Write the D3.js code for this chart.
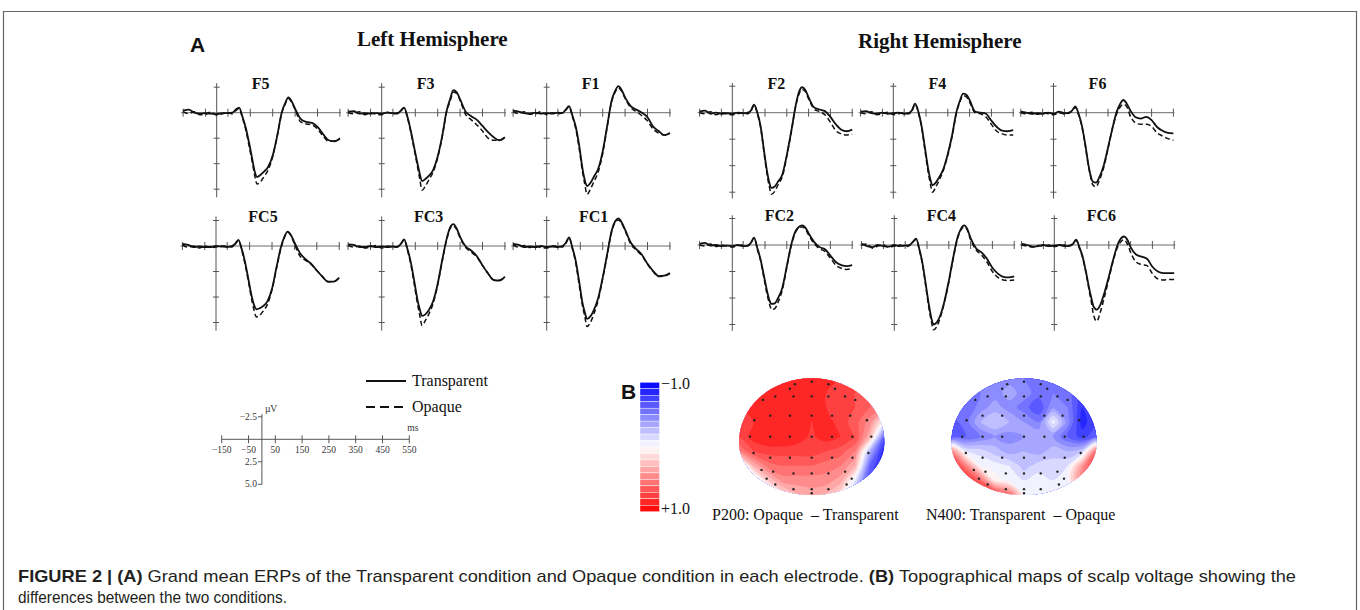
<!DOCTYPE html>
<html lang="en">
<head>
<meta charset="UTF-8">
<script src="https://cdn.jsdelivr.net/npm/d3@7"></script>
<title>ERP figure</title>
<style>
    body { margin: 0; background: #fff; }
    .serif { font-family: "Liberation Serif", "Times New Roman", serif; }
    .sans { font-family: "Liberation Sans", Arial, sans-serif; }
</style>
</head>
<body>
<svg id="fig" width="1360" height="610"></svg>
<script>
// sample times (ms) shared by every waveform
const times = [-150,-125,-100,-75,-50,-25,0,25,50,70,85,100,115,130,145,160,170,180,195,210,230,250,270,290,305,320,335,350,375,400,425,450,475,500,525,550];

// grand mean ERPs (µV)
const F5_transparent = [-0.2,-0.3,0.0,0.1,0.05,0.1,0.15,0.05,0.05,0.0,-0.3,-0.5,0.4,1.5,3.0,4.7,5.8,6.3,6.1,5.8,5.3,4.2,2.3,0.0,-0.9,-1.5,-1.1,-0.4,0.6,0.9,1.0,1.4,2.1,2.7,2.8,2.55];
const F5_opaque      = [-0.1,0.1,-0.1,0.2,0.15,-0.05,0.25,0.1,0.0,0.1,-0.2,-0.4,0.5,1.7,3.3,5.0,6.2,7.0,6.8,6.3,5.6,4.3,2.3,0.1,-0.8,-1.4,-1.0,-0.3,0.9,1.1,1.2,1.6,2.3,2.8,2.8,2.5];
const F3_transparent = [-0.1,-0.15,0.1,0.05,0.1,0.05,0.1,0.0,0.05,0.1,-0.2,-0.5,0.4,1.8,3.4,5.0,6.0,6.7,6.5,6.2,5.6,4.3,2.3,-0.2,-1.3,-2.2,-2.0,-1.3,-0.1,0.35,0.7,1.3,1.9,2.4,2.7,2.4];
const F3_opaque      = [0.0,0.1,-0.1,0.2,0.0,0.15,0.2,-0.05,0.1,0.0,-0.15,-0.45,0.5,1.9,3.6,5.3,6.5,7.6,7.2,6.6,5.8,4.4,2.4,-0.1,-1.1,-2.0,-1.9,-1.2,0.2,0.7,1.2,1.8,2.5,2.7,2.7,2.4];
const F1_transparent = [-0.2,-0.1,0.05,0.1,0.0,0.1,0.05,0.1,0.0,0.05,-0.3,-0.65,0.3,1.4,3.2,5.5,6.6,7.2,6.9,6.3,5.5,3.8,1.3,-1.2,-2.1,-2.6,-2.2,-1.5,-0.65,-0.3,0.0,0.45,1.35,1.8,2.2,2.0];
const F1_opaque      = [-0.1,0.1,-0.1,0.15,0.1,-0.1,0.2,0.0,0.1,0.0,-0.25,-0.6,0.4,1.6,3.5,5.8,7.0,8.0,7.5,6.8,5.8,4.0,1.4,-1.1,-2.0,-2.4,-2.1,-1.4,-0.5,-0.1,0.3,0.8,1.6,2.0,2.2,2.0];
const F2_transparent = [-0.1,-0.2,0.1,0.0,0.1,0.05,0.1,0.0,0.05,0.0,-0.2,-0.75,0.0,1.3,3.5,5.6,6.6,7.1,6.95,6.5,5.8,4.0,1.8,-0.6,-1.9,-2.4,-2.15,-1.45,-0.5,-0.3,-0.15,0.4,1.1,1.6,1.75,1.6];
const F2_opaque      = [0.0,0.1,-0.1,0.2,0.0,0.1,0.2,0.1,0.0,0.1,-0.15,-0.7,0.1,1.4,3.7,5.9,7.0,7.7,7.4,6.8,6.0,4.1,1.9,-0.5,-1.7,-2.2,-2.0,-1.3,-0.35,-0.1,0.2,0.9,1.7,2.0,2.1,2.05];
const F4_transparent = [-0.1,-0.15,0.05,0.1,0.0,0.1,0.05,0.0,0.1,0.05,-0.2,-0.85,-0.1,1.3,3.3,5.3,6.3,6.85,6.6,6.1,5.3,3.9,2.1,-0.1,-1.1,-1.8,-1.7,-1.2,-0.1,0.0,0.1,0.75,1.35,1.7,1.75,1.65];
const F4_opaque      = [0.0,0.1,-0.1,0.2,0.1,-0.05,0.2,0.1,0.0,0.1,-0.15,-0.8,0.0,1.4,3.5,5.6,6.7,7.5,7.0,6.4,5.4,4.0,2.2,0.0,-1.0,-1.6,-1.5,-1.0,0.0,0.1,0.4,1.1,1.75,2.0,2.1,2.1];
const F6_transparent = [-0.1,0.0,0.1,0.05,0.1,0.0,0.1,-0.1,0.05,0.0,-0.2,-0.6,0.1,1.2,2.9,4.9,5.9,6.5,6.6,6.1,5.0,3.3,1.5,-0.1,-0.8,-1.2,-0.9,-0.3,0.4,0.55,0.4,0.7,1.35,1.7,1.9,1.95];
const F6_opaque      = [0.0,0.1,-0.05,0.15,0.0,0.1,0.2,0.0,0.1,0.05,-0.15,-0.5,0.2,1.3,3.0,5.0,6.0,6.8,7.0,6.4,5.2,3.4,1.5,0.1,-0.5,-0.8,-0.6,0.2,0.95,1.1,1.1,1.3,1.9,2.2,2.45,2.6];
const FC5_transparent = [-0.2,-0.1,0.1,0.05,0.1,0.1,0.0,0.05,0.1,0.0,-0.2,-0.6,0.3,1.6,3.3,5.0,5.8,6.2,6.1,5.9,5.4,4.2,2.1,0.1,-0.9,-1.4,-1.05,-0.35,0.7,1.3,1.75,2.4,3.0,3.5,3.5,3.1];
const FC5_opaque      = [-0.1,0.1,0.0,0.2,0.0,0.15,0.1,0.0,0.0,0.1,-0.15,-0.55,0.4,1.8,3.5,5.3,6.3,6.95,6.8,6.4,5.7,4.3,2.2,0.2,-0.8,-1.35,-1.0,-0.2,1.0,1.4,1.8,2.4,3.0,3.5,3.5,3.1];
const FC3_transparent = [-0.15,-0.1,0.1,0.1,0.0,0.1,0.05,0.1,0.05,0.1,-0.2,-0.65,0.3,1.6,3.4,5.3,6.2,6.85,6.7,6.3,5.4,3.7,1.4,-0.7,-1.8,-2.15,-1.7,-0.9,0.05,0.45,1.0,1.9,2.7,3.35,3.4,3.0];
const FC3_opaque      = [-0.05,0.1,0.0,0.2,0.1,-0.05,0.2,0.0,0.1,0.05,-0.15,-0.6,0.4,1.8,3.7,5.7,6.8,7.8,7.3,6.7,5.6,3.8,1.5,-0.6,-1.7,-2.0,-1.6,-0.8,0.15,0.6,1.1,1.9,2.7,3.3,3.35,3.0];
const FC1_transparent = [-0.2,-0.1,0.1,0.05,0.1,0.0,0.1,0.05,0.1,0.0,-0.3,-0.85,0.2,1.5,3.5,5.6,6.5,7.15,6.9,6.3,5.1,3.1,0.8,-1.5,-2.4,-2.7,-2.3,-1.6,-0.35,0.3,0.85,1.75,2.45,2.95,2.9,2.65];
const FC1_opaque      = [-0.1,0.1,-0.05,0.15,0.0,0.15,0.2,0.0,0.0,0.1,-0.25,-0.8,0.3,1.7,3.8,5.9,6.9,7.9,7.5,6.7,5.3,3.2,0.9,-1.4,-2.3,-2.55,-2.2,-1.5,-0.2,0.4,0.95,1.8,2.5,3.0,2.95,2.7];
const FC2_transparent = [-0.1,-0.2,0.05,0.0,0.1,0.05,0.1,0.0,0.1,0.05,-0.2,-0.7,0.3,1.4,2.9,4.4,5.2,5.55,5.5,5.0,4.0,2.0,0.0,-1.3,-1.7,-1.85,-1.65,-1.1,-0.3,0.2,0.4,1.0,1.6,1.9,2.0,1.9];
const FC2_opaque      = [0.0,0.1,-0.1,0.15,0.0,0.1,0.2,0.05,0.0,0.1,-0.15,-0.65,0.4,1.5,3.1,4.7,5.5,6.1,6.0,5.4,4.2,2.1,0.1,-1.2,-1.6,-1.7,-1.5,-0.95,-0.15,0.35,0.6,1.25,1.9,2.2,2.3,2.2];
const FC4_transparent = [-0.1,0.1,0.2,0.0,0.1,0.15,0.0,0.1,0.05,0.0,-0.3,-0.6,0.4,1.8,3.8,5.8,6.9,7.5,7.3,6.7,5.3,3.4,1.2,-0.7,-1.5,-1.85,-1.5,-0.65,0.3,0.7,1.3,2.15,2.7,3.0,3.05,2.95];
const FC4_opaque      = [0.0,-0.1,0.3,0.1,0.0,0.2,0.1,0.0,0.15,0.05,-0.25,-0.55,0.5,1.9,4.0,6.1,7.2,8.0,7.7,6.9,5.4,3.5,1.3,-0.6,-1.4,-1.7,-1.4,-0.5,0.45,0.95,1.6,2.5,3.05,3.3,3.35,3.3];
const FC6_transparent = [-0.1,0.0,0.15,0.1,0.0,0.1,0.05,0.0,0.1,0.05,-0.1,-0.5,0.2,1.1,2.5,4.1,5.0,5.8,6.1,5.7,4.5,3.0,1.4,0.0,-0.6,-0.8,-0.5,0.2,0.9,1.1,1.3,2.05,2.5,2.65,2.65,2.65];
const FC6_opaque      = [0.0,0.1,0.2,0.05,0.1,0.0,0.15,0.05,0.0,0.1,-0.05,-0.45,0.3,1.2,2.6,4.3,5.4,6.6,7.2,6.4,4.9,3.2,1.5,0.2,-0.3,-0.5,-0.1,0.7,1.6,1.85,1.95,2.7,3.2,3.3,3.25,3.25];

// axis ticks
const msTicks = [-150, -50, 50, 150, 250, 350, 450, 550];
const msTickLabels = ["\u2212150", "\u221250", "50", "150", "250", "350", "450", "550"];
const uvTicks = [-2.5, 2.5, 5.0, 7.5];
const legendUvTicks = [-2.5, 2.5, 5.0];
const legendUvLabels = ["\u22122.5", "2.5", "5.0"];

// topographic maps: difference voltage on an 11 x 9 grid (u -1..1 left-right, v -1..1 top-bottom)
const colorLevels = [-1.0,-0.9,-0.8,-0.7,-0.6,-0.5,-0.4,-0.3,-0.2,-0.1,0.0,0.1,0.2,0.3,0.4,0.5,0.6,0.7,0.8,0.9];
const p200Diff = [
    [0.75,0.8,0.8,0.8,0.8,0.8,0.8,0.8,0.75,0.7,0.6],
    [0.8,0.8,0.8,0.8,0.8,0.8,0.8,0.75,0.7,0.65,0.6],
    [0.8,0.8,0.8,0.85,0.8,0.8,0.8,0.75,0.7,0.6,0.5],
    [0.75,0.8,0.85,0.8,0.8,0.8,0.85,0.75,0.65,0.45,0.0],
    [0.7,0.85,0.9,0.9,0.85,0.78,0.85,0.8,0.7,0.3,-0.6],
    [0.5,0.7,0.75,0.75,0.75,0.75,0.7,0.65,0.5,-0.3,-0.9],
    [-0.3,0.3,0.55,0.6,0.6,0.6,0.55,0.5,0.3,-0.6,-0.9],
    [-0.4,-0.2,0.2,0.45,0.45,0.45,0.45,0.35,-0.1,-0.7,-0.8],
    [-0.4,-0.3,-0.2,0.1,0.3,0.35,0.3,0.1,-0.3,-0.5,-0.5]
];
const n400Diff = [
    [-0.5,-0.5,-0.5,-0.5,-0.45,-0.5,-0.55,-0.6,-0.6,-0.7,-0.7],
    [-0.5,-0.55,-0.5,-0.45,-0.35,-0.45,-0.55,-0.5,-0.55,-0.75,-0.7],
    [-0.55,-0.6,-0.45,-0.35,-0.45,-0.55,-0.7,-0.4,-0.5,-0.8,-0.7],
    [-0.65,-0.55,-0.3,-0.2,-0.3,-0.4,-0.5,-0.05,-0.45,-0.85,-0.7],
    [-0.7,-0.6,-0.5,-0.4,-0.45,-0.4,-0.3,-0.4,-0.6,-0.75,-0.6],
    [0.5,-0.1,-0.15,-0.25,-0.35,-0.3,-0.35,-0.25,-0.3,-0.2,0.6],
    [0.9,0.5,0.0,-0.05,-0.1,-0.25,-0.15,-0.15,-0.1,0.4,0.9],
    [0.9,0.9,0.6,0.05,-0.05,-0.1,-0.05,-0.1,0.0,0.5,0.9],
    [0.9,0.9,0.9,0.9,0.6,0.0,-0.1,-0.1,-0.1,0.0,0.3]
];
// electrode sites, same normalised head coordinates
const electrodes = [
    [-0.23,-0.9],[0,-0.94],[0.23,-0.9],[-0.3,-0.82],[0.32,-0.82],
    [-0.5,-0.69],[-0.25,-0.69],[0,-0.69],[0.23,-0.69],[0.46,-0.69],[-0.67,-0.63],[0.6,-0.63],
    [-0.57,-0.36],[-0.3,-0.36],[0,-0.36],[0.28,-0.36],[0.53,-0.36],[-0.79,-0.28],[0.76,-0.28],
    [-0.85,0],[-0.57,0],[-0.3,0],[0,0],[0.28,0],[0.56,0],[0.82,0],
    [-0.8,0.28],[0.78,0.28],[-0.57,0.36],[-0.3,0.36],[0,0.36],[0.28,0.36],[0.56,0.36],
    [-0.69,0.57],[-0.53,0.6],[0.46,0.6],[-0.25,0.63],[0,0.63],[0.23,0.63],
    [-0.62,0.72],[0.55,0.72],[-0.5,0.82],[0.48,0.82],[-0.25,0.9],[0,0.9],[0.23,0.9],[0,0.97]
];

const svg = d3.select("#fig");

// frame
svg.append("path")
    .attr("d", "M3.5,610V11.5H1356.5V610")
    .attr("fill", "none").attr("stroke", "#666").attr("stroke-width", 1.2);

// ---- panel A ----
const hemis = {
    L: { pxPerMs: 0.224, pxPerUv: 10.2, top: -2.9, bottom: 8.3 },
    R: { pxPerMs: 0.218, pxPerUv: 10.6, top: -2.8, bottom: 8.1 }
};

const panels = [
    { name: "F5",  solid: F5_transparent,  dashed: F5_opaque,  ax: 216.7,  ay: 112.7, side: "L" },
    { name: "F3",  solid: F3_transparent,  dashed: F3_opaque,  ax: 381.7,  ay: 112.7, side: "L" },
    { name: "F1",  solid: F1_transparent,  dashed: F1_opaque,  ax: 546.7,  ay: 112.7, side: "L" },
    { name: "F2",  solid: F2_transparent,  dashed: F2_opaque,  ax: 732.3,  ay: 112.7, side: "R" },
    { name: "F4",  solid: F4_transparent,  dashed: F4_opaque,  ax: 893.3,  ay: 112.7, side: "R" },
    { name: "F6",  solid: F6_transparent,  dashed: F6_opaque,  ax: 1053.5, ay: 112.7, side: "R" },
    { name: "FC5", solid: FC5_transparent, dashed: FC5_opaque, ax: 216.0,  ay: 246,   side: "L" },
    { name: "FC3", solid: FC3_transparent, dashed: FC3_opaque, ax: 381.7,  ay: 246,   side: "L" },
    { name: "FC1", solid: FC1_transparent, dashed: FC1_opaque, ax: 546.7,  ay: 246,   side: "L" },
    { name: "FC2", solid: FC2_transparent, dashed: FC2_opaque, ax: 732.3,  ay: 245,   side: "R" },
    { name: "FC4", solid: FC4_transparent, dashed: FC4_opaque, ax: 894.3,  ay: 245,   side: "R" },
    { name: "FC6", solid: FC6_transparent, dashed: FC6_opaque, ax: 1054.3, ay: 245,   side: "R" }
];

function drawPanel(p) {
    const h = hemis[p.side];
    const x = d3.scaleLinear().domain([-150, 550]).range([p.ax - 150 * h.pxPerMs, p.ax + 550 * h.pxPerMs]);
    const y = d3.scaleLinear().domain([0, 1]).range([p.ay, p.ay + h.pxPerUv]);
    const g = svg.append("g");

    // axes
    g.append("line")
        .attr("x1", x(-150) - 2).attr("x2", x(550) + 1).attr("y1", y(0)).attr("y2", y(0))
        .attr("stroke", "#6a6a6a").attr("stroke-width", 1);
    g.append("line")
        .attr("x1", x(0)).attr("x2", x(0)).attr("y1", y(h.top)).attr("y2", y(h.bottom))
        .attr("stroke", "#555").attr("stroke-width", 1);
    g.selectAll(".xt").data(msTicks).enter().append("line")
        .attr("x1", d => x(d)).attr("x2", d => x(d))
        .attr("y1", y(0) - 4).attr("y2", y(0) + 4)
        .attr("stroke", "#555").attr("stroke-width", 1);
    g.selectAll(".yt").data(uvTicks).enter().append("line")
        .attr("x1", x(0) - 3).attr("x2", x(0) + 3)
        .attr("y1", d => y(d)).attr("y2", d => y(d))
        .attr("stroke", "#555").attr("stroke-width", 1);

    const line = d3.line()
        .x((d, i) => x(times[i]))
        .y(d => y(d))
        .curve(d3.curveMonotoneX);

    g.append("path").datum(p.dashed).attr("d", line)
        .attr("fill", "none").attr("stroke", "#111").attr("stroke-width", 1.5)
        .attr("stroke-dasharray", "5,3");
    g.append("path").datum(p.solid).attr("d", line)
        .attr("fill", "none").attr("stroke", "#111").attr("stroke-width", 1.8);

    g.append("text")
        .attr("class", "serif")
        .attr("x", p.ax + (p.name.length > 2 ? 47 : 44))
        .attr("y", p.ay - 24)
        .attr("text-anchor", "middle")
        .attr("font-weight", "bold").attr("font-size", 16)
        .attr("fill", "#111")
        .text(p.name);
}
panels.forEach(drawPanel);

svg.append("text").attr("class", "sans").attr("x", 190).attr("y", 52)
    .attr("font-weight", "bold").attr("font-size", 21).attr("fill", "#111").text("A");
svg.append("text").attr("class", "serif").attr("x", 357).attr("y", 46)
    .attr("font-weight", "bold").attr("font-size", 21).attr("fill", "#111").text("Left Hemisphere");
svg.append("text").attr("class", "serif").attr("x", 858).attr("y", 48)
    .attr("font-weight", "bold").attr("font-size", 21).attr("fill", "#111").text("Right Hemisphere");

// condition legend
const legendItems = [
    { label: "Transparent", dash: null, y: 381 },
    { label: "Opaque", dash: "9,5", y: 407 }
];
legendItems.forEach(d => {
    svg.append("line").attr("x1", 366).attr("x2", 406).attr("y1", d.y).attr("y2", d.y)
        .attr("stroke", "#111").attr("stroke-width", 2)
        .attr("stroke-dasharray", d.dash);
    svg.append("text").attr("class", "serif").attr("x", 412).attr("y", d.y + 5)
        .attr("font-size", 16).attr("fill", "#111").text(d.label);
});

// scale key
const kx = d3.scaleLinear().domain([-150, 550]).range([221.7, 409.3]);
const ky = d3.scaleLinear().domain([0, 2.5]).range([439.3, 461.8]);
const key = svg.append("g");
key.append("line").attr("x1", kx(-150)).attr("x2", kx(550)).attr("y1", ky(0)).attr("y2", ky(0))
    .attr("stroke", "#555");
key.append("line").attr("x1", kx(0)).attr("x2", kx(0)).attr("y1", ky(-2.8)).attr("y2", ky(5.0))
    .attr("stroke", "#555");
key.selectAll(".kxt").data(msTicks).enter().append("line")
    .attr("x1", d => kx(d)).attr("x2", d => kx(d)).attr("y1", ky(0) - 4).attr("y2", ky(0) + 4)
    .attr("stroke", "#555");
key.selectAll(".kxl").data(msTicks).enter().append("text")
    .attr("class", "serif").attr("x", d => kx(d)).attr("y", ky(0) + 14)
    .attr("text-anchor", "middle").attr("font-size", 9.5).attr("fill", "#333")
    .text((d, i) => msTickLabels[i]);
key.selectAll(".kyt").data(legendUvTicks).enter().append("line")
    .attr("x1", kx(0) - 4).attr("x2", kx(0)).attr("y1", d => ky(d)).attr("y2", d => ky(d))
    .attr("stroke", "#555");
key.selectAll(".kyl").data(legendUvTicks).enter().append("text")
    .attr("class", "serif").attr("x", kx(0) - 5).attr("y", d => ky(d) + 3)
    .attr("text-anchor", "end").attr("font-size", 9.5).attr("fill", "#333")
    .text((d, i) => legendUvLabels[i]);
key.append("text").attr("class", "serif").attr("x", kx(0) + 3).attr("y", ky(-2.5) - 5)
    .attr("font-size", 9.5).attr("fill", "#333").text("\u00b5V");
key.append("text").attr("class", "serif").attr("x", kx(550) - 2).attr("y", ky(0) - 8)
    .attr("font-size", 9.5).attr("fill", "#333").text("ms");

// ---- panel B ----
const ramp = d3.scaleLinear().domain([-1, 0, 1]).range(["#0000ff", "#ffffff", "#ff0000"]);
const cb = d3.scaleLinear().domain([-1, 1]).range([382.3, 511.7]);
svg.selectAll(".cb").data(colorLevels).enter().append("rect")
    .attr("x", 640).attr("width", 19.5)
    .attr("y", d => cb(d)).attr("height", d => cb(d + 0.1) - cb(d))
    .attr("fill", d => ramp(d + 0.05))
    .attr("stroke", "#fff").attr("stroke-width", 0.4);
svg.append("text").attr("class", "serif").attr("x", 661).attr("y", 389)
    .attr("font-size", 16).attr("fill", "#111").text("\u22121.0");
svg.append("text").attr("class", "serif").attr("x", 661).attr("y", 514)
    .attr("font-size", 16).attr("fill", "#111").text("+1.0");
svg.append("text").attr("class", "sans").attr("x", 621).attr("y", 398.5)
    .attr("font-weight", "bold").attr("font-size", 21).attr("fill", "#111").text("B");

const maps = [
    { id: "p200", values: p200Diff, cx: 811.7, caption: "P200: Opaque  \u2013 Transparent", capX: 712 },
    { id: "n400", values: n400Diff, cx: 1024.0, caption: "N400: Transparent  \u2013 Opaque", capX: 926 }
];

function drawMap(m) {
    const mx = d3.scaleLinear().domain([-1, 1]).range([m.cx - 72.7, m.cx + 72.7]);
    const my = d3.scaleLinear().domain([-1, 1]).range([378.3, 495]);
    const nCols = m.values[0].length, nRows = m.values.length;
    const gx = d3.scaleLinear().domain([0.5, nCols - 0.5]).range([mx(-1), mx(1)]);
    const gy = d3.scaleLinear().domain([0.5, nRows - 0.5]).range([my(-1), my(1)]);

    // head outline: taller upper half, flatter lower half
    const x0 = mx(-1), x1 = mx(1), cy = my(0.1);
    const rx = (x1 - x0) / 2, ryTop = cy - my(-1), ryBot = my(1) - cy;
    const outline = `M${x0},${cy}A${rx},${ryTop} 0 0 1 ${x1},${cy}A${rx},${ryBot} 0 0 1 ${x0},${cy}Z`;
    svg.append("clipPath").attr("id", "clip-" + m.id).append("path").attr("d", outline);

    const bands = d3.contours().size([nCols, nRows]).thresholds(colorLevels)(m.values.flat());
    // smooth each contour ring instead of drawing straight marching-squares segments
    const ringLine = d3.line()
        .x(p => gx(p[0])).y(p => gy(p[1]))
        .curve(d3.curveCatmullRomClosed.alpha(0.5));
    const bandPath = b => b.coordinates
        .map(poly => poly.map(ring => ringLine(ring.slice(0, -1))).join(""))
        .join("");

    const g = svg.append("g").attr("clip-path", `url(#clip-${m.id})`);
    g.selectAll("path").data(bands).enter().append("path")
        .attr("d", bandPath)
        .attr("fill-rule", "evenodd")
        .attr("fill", d => ramp(d.value + 0.05));
    g.selectAll("circle").data(electrodes).enter().append("circle")
        .attr("cx", d => mx(d[0])).attr("cy", d => my(d[1])).attr("r", 1.2)
        .attr("fill", "#222");

    svg.append("text").attr("class", "serif").attr("x", m.capX).attr("y", 520)
        .attr("font-size", 16).attr("fill", "#111")
        .style("white-space", "pre")
        .text(m.caption);
}
maps.forEach(drawMap);

// caption
const cap1 = svg.append("text").attr("class", "sans").attr("x", 18).attr("y", 582)
    .attr("font-size", 17).attr("fill", "#231f20")
    .attr("textLength", 1278).attr("lengthAdjust", "spacingAndGlyphs");
cap1.append("tspan").attr("font-weight", "bold").text("FIGURE 2 | (A)");
cap1.append("tspan").text(" Grand mean ERPs of the Transparent condition and Opaque condition in each electrode. ");
cap1.append("tspan").attr("font-weight", "bold").text("(B)");
cap1.append("tspan").text(" Topographical maps of scalp voltage showing the");
svg.append("text").attr("class", "sans").attr("x", 18).attr("y", 603)
    .attr("font-size", 17).attr("fill", "#231f20")
    .attr("textLength", 269).attr("lengthAdjust", "spacingAndGlyphs")
    .text("differences between the two conditions.");
</script>
</body>
</html>
